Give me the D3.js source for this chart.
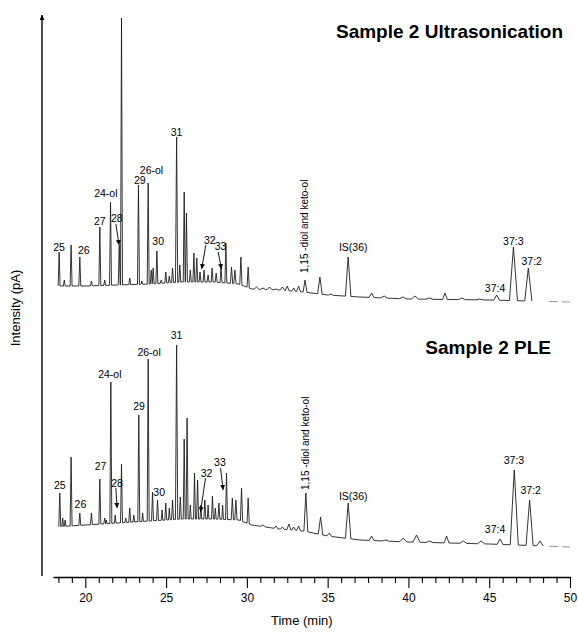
<!DOCTYPE html>
<html>
<head>
<meta charset="utf-8">
<script src="https://cdn.jsdelivr.net/npm/d3@7"></script>
<style>
  body { margin: 0; background: #fff; }
  text { font-family: "Liberation Sans", Arial, sans-serif; fill: #000; }
</style>
</head>
<body>
<svg id="chart" width="578" height="634"></svg>
<script>
// baseline knots (min) and baseline level of each trace (arbitrary pA units)
const baseTimes = [18, 20, 22, 24, 25, 26, 28, 29.5, 30.3, 32, 33.5, 35, 37, 40, 45, 50];
const ultraBase = [19, 19, 20, 21, 22, 23, 23, 21, 16, 15, 13, 10, 8, 6, 5, 3];
const pleBase = [23, 25, 27, 29, 30, 31, 31, 30, 25, 21, 19, 14, 10, 8, 6, 3];

// Sample 2 Ultrasonication peaks: retention time, apex, half width
const ultraPeakTimes = [18.38, 18.7, 19.12, 19.66, 20.38, 20.9, 21.2, 21.56, 22.1, 22.24, 22.75, 23.29, 23.5, 23.89,
  24.08, 24.2, 24.43, 24.7, 24.98, 25.2, 25.4, 25.65, 25.85, 26.12, 26.26, 26.5, 26.72, 26.9, 27.1, 27.35, 27.6,
  27.85, 28.1, 28.4, 28.7, 29.05, 29.26, 29.63, 30.08, 30.6, 31.0, 31.4, 31.8, 32.2, 32.5, 32.9, 33.2, 33.6, 34.52,
  35.2, 36.27, 37.72, 38.5, 39.66, 40.4, 41.3, 42.26, 43.3, 44.4, 45.46, 46.5, 47.42];
const ultraPeakHeights = [53, 25, 60, 48, 24, 78, 25, 103, 60, 287, 27, 120, 24, 122,
  35, 37, 54, 25, 33, 29, 37, 168, 40, 113, 92, 35, 52, 47, 33, 35, 30,
  37, 32, 39, 62, 38, 35, 48, 38, 18, 17, 18, 16, 18, 19, 17, 19, 25, 28,
  11, 48, 12, 9, 8, 9, 7, 12, 7, 6, 10, 58, 37];
const ultraPeakWidths = [0.06, 0.06, 0.06, 0.06, 0.06, 0.06, 0.06, 0.06, 0.06, 0.06, 0.06, 0.06, 0.06, 0.06,
  0.06, 0.06, 0.06, 0.06, 0.06, 0.06, 0.06, 0.07, 0.06, 0.06, 0.06, 0.06, 0.06, 0.06, 0.06, 0.06, 0.06,
  0.06, 0.06, 0.06, 0.06, 0.07, 0.07, 0.07, 0.07, 0.15, 0.15, 0.15, 0.15, 0.15, 0.12, 0.12, 0.12, 0.12, 0.14,
  0.15, 0.17, 0.15, 0.22, 0.22, 0.22, 0.22, 0.15, 0.22, 0.22, 0.18, 0.25, 0.22];

// Sample 2 PLE peaks
const plePeakTimes = [18.42, 18.6, 18.75, 19.12, 19.66, 20.38, 20.9, 21.2, 21.3, 21.58, 21.85, 22.24, 22.5, 22.75,
  23.0, 23.31, 23.55, 23.89, 24.16, 24.47, 24.75, 24.98, 25.2, 25.4, 25.65, 25.88, 26.12, 26.3, 26.5, 26.76, 26.95,
  27.15, 27.4, 27.6, 27.87, 28.05, 28.27, 28.5, 28.74, 29.1, 29.32, 29.67, 30.08, 30.6, 31.0, 31.4, 31.8, 32.2,
  32.6, 32.9, 33.2, 33.65, 34.56, 35.1, 36.27, 37.72, 38.6, 39.68, 40.5, 41.3, 42.36, 43.4, 44.5, 45.67, 46.55,
  47.5, 48.14];
const plePeakHeights = [57, 32, 30, 93, 37, 37, 71, 32, 30, 168, 35, 86, 32, 42,
  35, 135, 37, 191, 58, 50, 40, 47, 42, 50, 205, 53, 111, 132, 45, 77, 70,
  45, 50, 45, 54, 42, 47, 45, 77, 52, 50, 62, 52, 23, 25, 22, 24, 23,
  26, 23, 24, 57, 33, 17, 47, 14, 10, 12, 15, 9, 14, 9, 9, 11, 80,
  50, 9];
const plePeakWidths = [0.06, 0.05, 0.05, 0.06, 0.06, 0.06, 0.06, 0.06, 0.05, 0.06, 0.05, 0.06, 0.05, 0.06,
  0.05, 0.06, 0.05, 0.06, 0.06, 0.06, 0.05, 0.06, 0.05, 0.06, 0.07, 0.06, 0.06, 0.06, 0.05, 0.06, 0.06,
  0.05, 0.06, 0.05, 0.06, 0.05, 0.06, 0.05, 0.06, 0.07, 0.07, 0.07, 0.07, 0.15, 0.15, 0.15, 0.12, 0.12,
  0.12, 0.12, 0.12, 0.12, 0.14, 0.15, 0.17, 0.15, 0.22, 0.22, 0.22, 0.22, 0.15, 0.22, 0.22, 0.18, 0.25,
  0.22, 0.2];

// peak labels: text, time, level
const labelNames = ['25', '26', '27', '28', '24-ol', '29', '26-ol', '30', '31', '32', '33', 'IS(36)', '37:3', '37:2', '37:4'];
const ultraLabelTimes = [18.38, 19.91, 20.9, 21.95, 21.27, 23.37, 24.1, 24.51, 25.65, 27.71, 28.37, 36.58, 46.49, 47.63, 45.36];
const ultraLabelLevels = [58, 55, 84, 87, 112, 125, 135, 64, 173, 65, 59, 58, 64, 44, 17];
const pleLabelTimes = [18.42, 19.7, 20.94, 21.97, 21.52, 23.33, 23.95, 24.57, 25.65, 27.5, 28.33, 36.58, 46.53, 47.57, 45.36];
const pleLabelLevels = [65, 46, 84, 67, 176, 144, 198, 58, 215, 77, 88, 54, 90, 60, 21];

// vertical label for the diol peak: time, level of text start
const diolLabel = '1,15 -diol and keto-ol';
const diolTimes = [33.59, 33.65];
const diolLevels = [32, 60];

// arrows [fromTime, fromLevel, toTime, toLevel] for peaks 28, 32, 33
const ultraArrows = [[21.89, 81, 22.09, 60], [27.46, 60, 27.2, 36], [28.22, 53, 28.43, 36]];
const pleArrows = [[21.89, 62, 21.97, 42], [27.44, 72, 27.13, 38], [28.37, 82, 28.53, 60]];

const majorTicks = [20, 25, 30, 35, 40, 45, 50];
const titles = ['Sample 2 Ultrasonication', 'Sample 2 PLE'];

const svg = d3.select('#chart');
const x = d3.scaleLinear().domain([18, 50]).range([53, 570]);
const yUltra = d3.scaleLinear().domain([0, 290]).range([305, 15]);
const yPle = d3.scaleLinear().domain([0, 200]).range([550, 350]);

svg.append('defs').append('marker')
    .attr('id', 'head')
    .attr('viewBox', '0 0 10 10')
    .attr('refX', 10).attr('refY', 5)
    .attr('markerWidth', 5).attr('markerHeight', 5)
    .attr('markerUnits', 'userSpaceOnUse')
    .attr('orient', 'auto')
    .append('path')
    .attr('d', 'M0,0L10,5L0,10Z')
    .attr('fill', '#000');

const tracePoints = (times, heights, widths, baseVals) => {
    const base = d3.scaleLinear().domain(baseTimes).range(baseVals);
    const pts = [];
    baseTimes.forEach((t, i) => {
        const inPeak = times.some((p, j) => Math.abs(t - p) < widths[j]);
        if (!inPeak) pts.push([t, baseVals[i]]);
    });
    times.forEach((t, i) => {
        const w = widths[i];
        pts.push([t - w, base(t - w)], [t, Math.max(heights[i], base(t))], [t + w, base(t + w)]);
    });
    pts.sort((a, b) => a[0] - b[0]);
    return { pts, base };
};

const drawPanel = (y, times, heights, widths, baseVals, labelTimes, labelLevels, arrows, diolT, diolL) => {
    const { pts, base } = tracePoints(times, heights, widths, baseVals);
    const line = d3.line().x(d => x(d[0])).y(d => y(d[1]));
    svg.append('path')
        .attr('d', line(pts.filter(d => d[0] >= 18.1 && d[0] <= 48.4)))
        .attr('fill', 'none')
        .attr('stroke', '#1e1e1e')
        .attr('stroke-width', 0.9)
        .attr('stroke-linejoin', 'round');
    // faint tail of the run
    const tail = [48.7, 50].map(t => [t, base(t)]);
    svg.append('path')
        .attr('d', line(tail))
        .attr('fill', 'none')
        .attr('stroke', '#777')
        .attr('stroke-width', 0.8)
        .attr('stroke-dasharray', '9,4');

    svg.append('g').selectAll('text')
        .data(labelNames)
        .join('text')
        .attr('x', (d, i) => x(labelTimes[i]))
        .attr('y', (d, i) => y(labelLevels[i]))
        .attr('dy', '0.35em')
        .attr('text-anchor', 'middle')
        .attr('font-size', 10.5)
        .text(d => d);

    svg.append('text')
        .attr('transform', `translate(${x(diolT)},${y(diolL)}) rotate(-90)`)
        .attr('dy', '0.35em')
        .attr('font-size', 10)
        .text(diolLabel);

    svg.append('g').selectAll('line')
        .data(arrows)
        .join('line')
        .attr('x1', d => x(d[0])).attr('y1', d => y(d[1]))
        .attr('x2', d => x(d[2])).attr('y2', d => y(d[3]))
        .attr('stroke', '#000')
        .attr('stroke-width', 0.9)
        .attr('marker-end', 'url(#head)');
};

drawPanel(yUltra, ultraPeakTimes, ultraPeakHeights, ultraPeakWidths, ultraBase,
    ultraLabelTimes, ultraLabelLevels, ultraArrows, diolTimes[0], diolLevels[0]);
drawPanel(yPle, plePeakTimes, plePeakHeights, plePeakWidths, pleBase,
    pleLabelTimes, pleLabelLevels, pleArrows, diolTimes[1], diolLevels[1]);

svg.append('text')
    .attr('x', 563).attr('y', 38)
    .attr('text-anchor', 'end')
    .attr('font-size', 19).attr('font-weight', 'bold')
    .text(titles[0]);
svg.append('text')
    .attr('x', 551).attr('y', 354)
    .attr('text-anchor', 'end')
    .attr('font-size', 19).attr('font-weight', 'bold')
    .text(titles[1]);

// x axis: minor ticks every 5/6 min, labelled ticks every 5 min
const minorTicks = d3.range(-2, 37).filter(k => k % 6 !== 0).map(k => 20 + k * 5 / 6);
const axisY = 577;
const minorAxis = svg.append('g')
    .attr('transform', `translate(0,${axisY})`)
    .call(d3.axisBottom(x).tickValues(minorTicks).tickSize(6).tickFormat(''));
minorAxis.select('.domain').remove();
const majorAxis = svg.append('g')
    .attr('transform', `translate(0,${axisY})`)
    .call(d3.axisBottom(x).tickValues(majorTicks).tickSize(11).tickSizeOuter(0).tickPadding(5));
majorAxis.select('.domain').attr('stroke-width', 1.4);
majorAxis.selectAll('text').attr('font-size', 12).attr('font-family', '"Liberation Sans", Arial, sans-serif');
svg.selectAll('.tick line').attr('stroke-width', 1.1);

// y axis with arrow
svg.append('line')
    .attr('x1', 42).attr('x2', 42)
    .attr('y1', 576).attr('y2', 15)
    .attr('stroke', '#000')
    .attr('stroke-width', 1.4)
    .attr('marker-end', 'url(#head)');

svg.append('text')
    .attr('x', x(33.4)).attr('y', 625)
    .attr('text-anchor', 'middle')
    .attr('font-size', 13)
    .text('Time (min)');
svg.append('text')
    .attr('transform', 'translate(20,308) rotate(-90)')
    .attr('text-anchor', 'middle')
    .attr('font-size', 13)
    .text('Intensity (pA)');
</script>
</body>
</html>
